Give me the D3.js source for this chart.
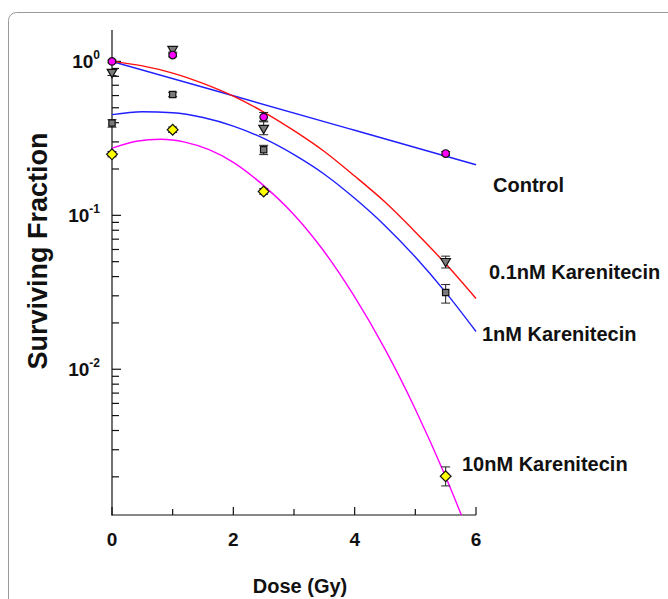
<!DOCTYPE html>
<html>
<head>
<meta charset="utf-8">
<script src="https://cdn.jsdelivr.net/npm/d3@7"></script>
<style>
  body { margin: 0; background: #fff; }
  svg text { font-family: "Liberation Sans", Arial, sans-serif; font-weight: bold; fill: #111; }
</style>
</head>
<body>
<svg id="chart" width="668" height="599"></svg>
<script>
// measured points (dose in Gy, surviving fraction)
var doses = [0, 1, 2.5, 5.5];
var control = [1.0, 1.10, 0.435, 0.252];
var nm01 = [0.852, 1.20, 0.369, 0.0503];
var nm1 = [0.398, 0.61, 0.267, 0.0315];
var nm10 = [0.249, 0.36, 0.143, 0.00202];

// error bars [low, high]
var controlErr = [[0.98, 1.02], [1.07, 1.13], [0.41, 0.466], [0.245, 0.26]];
var nm01Err = [[0.81, 0.88], [1.15, 1.25], [0.334, 0.405], [0.0455, 0.0543]];
var nm1Err = [[0.374, 0.418], [0.59, 0.63], [0.248, 0.285], [0.0269, 0.0355]];
var nm10Err = [[0.24, 0.26], [0.345, 0.375], [0.137, 0.149], [0.001746, 0.00232]];

// fitted curves
var controlFitDose = [0, 2, 4, 6];
var controlFit = [1.0, 0.598, 0.357, 0.213];
var fitDose = [0, 0.5, 1, 1.5, 2, 2.5, 3, 3.5, 4, 4.5, 5, 5.5, 6];
var nm01Fit = [1.0, 0.935, 0.84, 0.72, 0.595, 0.469, 0.355, 0.26, 0.18, 0.122, 0.078, 0.0484, 0.0288];
var nm1Fit = [0.451, 0.471, 0.464, 0.432, 0.38, 0.316, 0.248, 0.185, 0.129, 0.0857, 0.0536, 0.0316, 0.0176];
var nm10FitDose = [0, 0.4, 0.8, 1.2, 1.6, 2, 2.5, 3, 3.5, 4, 4.5, 5, 5.5, 5.8];
var nm10Fit = [0.273, 0.303, 0.312, 0.299, 0.267, 0.221, 0.156, 0.101, 0.058, 0.0295, 0.0135, 0.0055, 0.0020, 0.00103];

var xTicks = [0, 2, 4, 6];
var xMinor = [1, 3, 5];
var yMajor = [1, 0.1, 0.01];
var yLabels = ["0", "-1", "-2"];

var svg = d3.select("#chart");

svg.append("rect").attr("width", 668).attr("height", 599).attr("fill", "#fff");
// frame of the figure panel
svg.append("rect")
    .attr("x", 8.5).attr("y", 12.5)
    .attr("width", 720).attr("height", 700)
    .attr("rx", 8)
    .attr("fill", "none")
    .attr("stroke", "#999");

var x = d3.scaleLinear().domain([0, 6]).range([112, 476]);
var y = d3.scaleLog().domain([0.00113, 1.6]).range([515, 30]);

svg.append("clipPath").attr("id", "plot")
    .append("rect").attr("x", 112).attr("y", 30).attr("width", 380).attr("height", 485);

// axes
var yMinor = [];
[0.001, 0.01, 0.1].forEach(function (dec) {
    for (var k = 2; k <= 9; k++) {
        var v = dec * k;
        if (v > y.domain()[0] && v < y.domain()[1]) yMinor.push(v);
    }
});

var g = svg.append("g").attr("stroke", "#111").attr("stroke-width", 1.2);
g.append("line").attr("x1", 112).attr("x2", 112).attr("y1", 30).attr("y2", 515.5);
g.append("line").attr("x1", 111.5).attr("x2", 476).attr("y1", 515).attr("y2", 515);

g.selectAll(".ymaj").data(yMajor).enter().append("line")
    .attr("x1", 112).attr("x2", 121)
    .attr("y1", d => y(d)).attr("y2", d => y(d));
g.selectAll(".ymin").data(yMinor).enter().append("line")
    .attr("x1", 112).attr("x2", 119)
    .attr("y1", d => y(d)).attr("y2", d => y(d));
g.selectAll(".xmaj").data(xTicks).enter().append("line")
    .attr("x1", d => x(d)).attr("x2", d => x(d))
    .attr("y1", 515).attr("y2", 507);
g.selectAll(".xmin").data(xMinor).enter().append("line")
    .attr("x1", d => x(d)).attr("x2", d => x(d))
    .attr("y1", 515).attr("y2", 509);

svg.selectAll(".xlab").data(xTicks).enter().append("text")
    .attr("x", d => x(d)).attr("y", 546)
    .attr("text-anchor", "middle")
    .style("font-size", "19px")
    .text(d => d);

var ylab = svg.selectAll(".ylab").data(yMajor).enter().append("text")
    .attr("x", 100).attr("y", d => y(d) + 7)
    .attr("text-anchor", "end")
    .style("font-size", "19px");
ylab.append("tspan").text("10");
ylab.append("tspan").attr("dy", -9).style("font-size", "12px").text((d, i) => yLabels[i]);

svg.append("text")
    .attr("transform", "translate(47,251) rotate(-90)")
    .attr("text-anchor", "middle")
    .style("font-size", "27px")
    .text("Surviving  Fraction");

svg.append("text")
    .attr("x", 300).attr("y", 593)
    .attr("text-anchor", "middle")
    .style("font-size", "20px")
    .text("Dose (Gy)");

// fitted curves
var line = d3.line()
    .x(d => x(d[0]))
    .y(d => y(d[1]))
    .curve(d3.curveMonotoneX);

var curves = [
    { dose: controlFitDose, val: controlFit, color: "#1f1fff" },
    { dose: fitDose, val: nm01Fit, color: "#ff1010" },
    { dose: fitDose, val: nm1Fit, color: "#1f1fff" },
    { dose: nm10FitDose, val: nm10Fit, color: "#ff00ff" }
];

svg.append("g").attr("clip-path", "url(#plot)")
    .selectAll("path").data(curves).enter().append("path")
    .attr("d", c => line(c.dose.map((d, i) => [d, c.val[i]])))
    .attr("fill", "none")
    .attr("stroke", c => c.color)
    .attr("stroke-width", 1.4);

// points with error bars
var series = [
    { val: nm10, err: nm10Err, symbol: d3.symbolSquare, size: 58, rot: 45, fill: "#ffff00" },
    { val: nm1, err: nm1Err, symbol: d3.symbolSquare, size: 40, rot: 0, fill: "#7a7a7a" },
    { val: nm01, err: nm01Err, symbol: d3.symbolTriangle, size: 40, rot: 180, fill: "#7a7a7a" },
    { val: control, err: controlErr, symbol: d3.symbolCircle, size: 45, rot: 0, fill: "#ff00ff" }
];

series.forEach(function (s) {
    var eg = svg.append("g").attr("stroke", "#222").attr("stroke-width", 1);
    doses.forEach(function (d, i) {
        var lo = y(s.err[i][0]), hi = y(s.err[i][1]), cx = x(d);
        eg.append("line").attr("x1", cx).attr("x2", cx).attr("y1", lo).attr("y2", hi);
        eg.append("line").attr("x1", cx - 4.5).attr("x2", cx + 4.5).attr("y1", lo).attr("y2", lo);
        eg.append("line").attr("x1", cx - 4.5).attr("x2", cx + 4.5).attr("y1", hi).attr("y2", hi);
    });
    svg.append("g").selectAll("path").data(s.val).enter().append("path")
        .attr("d", d3.symbol().type(s.symbol).size(s.size))
        .attr("transform", (v, i) => "translate(" + x(doses[i]) + "," + y(v) + ") rotate(" + s.rot + ")")
        .attr("fill", s.fill)
        .attr("stroke", "#111")
        .attr("stroke-width", 1.2);
});

// series labels
var labels = [
    { text: "Control", x: 493, y: 192 },
    { text: "0.1nM Karenitecin", x: 489, y: 279 },
    { text: "1nM Karenitecin", x: 482, y: 341 },
    { text: "10nM Karenitecin", x: 462, y: 471 }
];
svg.selectAll(".lab").data(labels).enter().append("text")
    .attr("x", d => d.x).attr("y", d => d.y)
    .style("font-size", "20px")
    .text(d => d.text);
</script>
</body>
</html>
